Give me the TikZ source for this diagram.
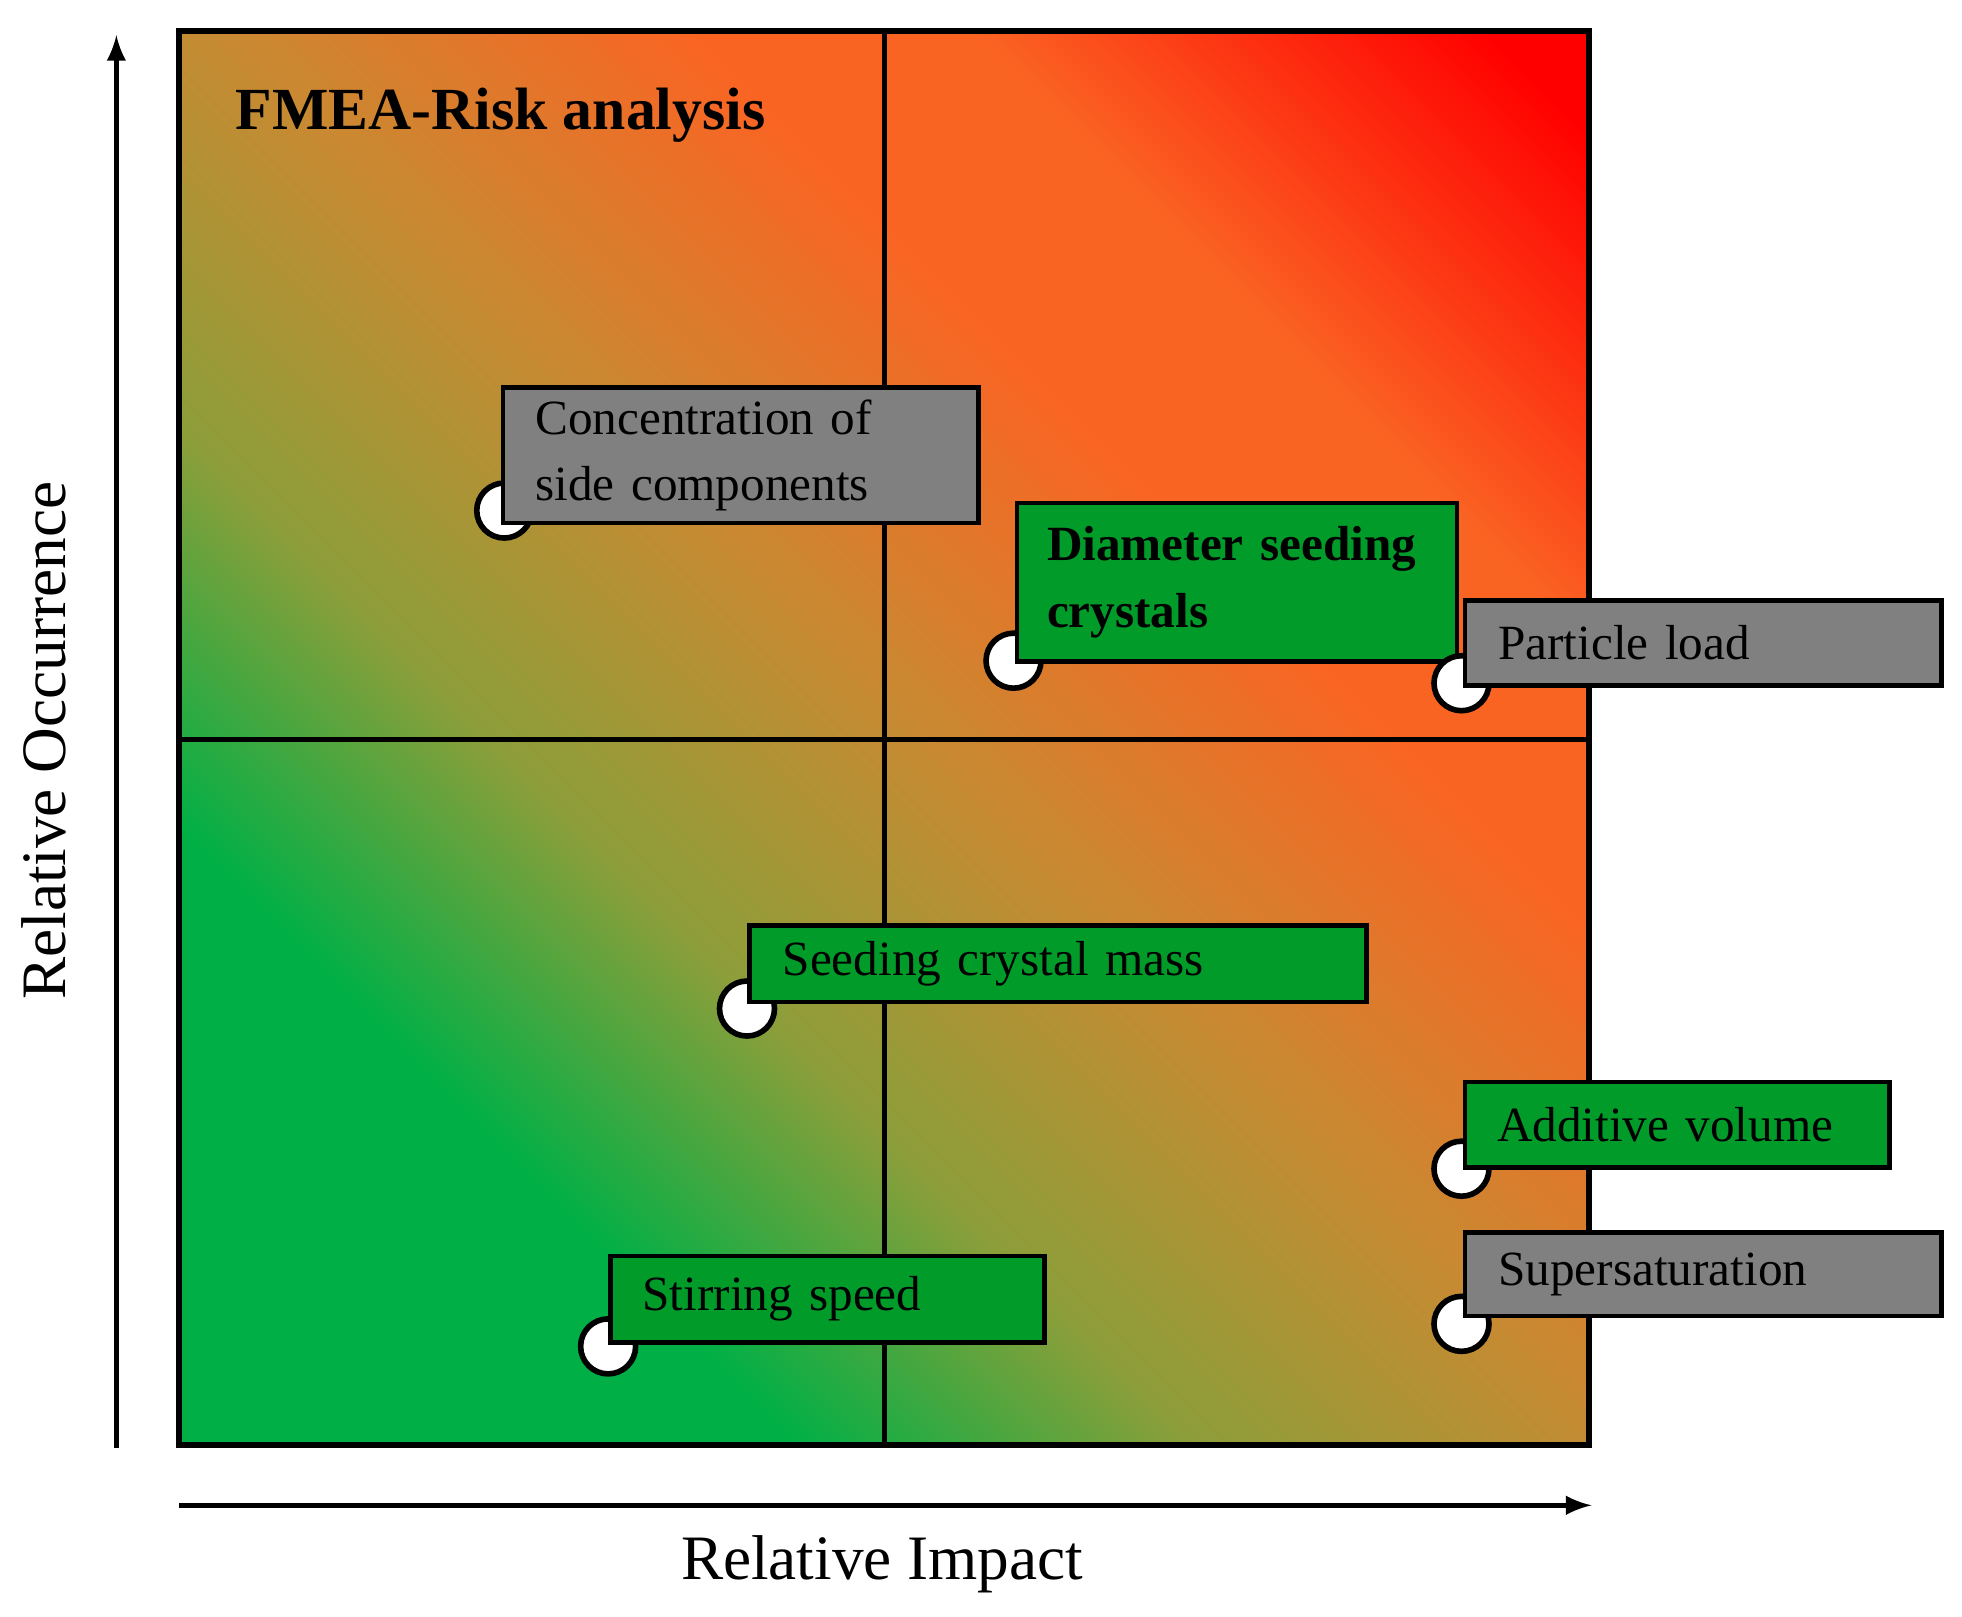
\documentclass[tikz,border=0pt]{standalone}
\usepackage{fontspec}
\setmainfont{Liberation Serif}
\definecolor{rgreen}{RGB}{0,176,70}
\definecolor{rolive}{RGB}{140,158,58}
\definecolor{rbrown}{RGB}{200,138,50}
\definecolor{rorange}{RGB}{250,100,35}
\definecolor{rred}{RGB}{255,0,0}
\definecolor{boxgreen}{RGB}{0,155,40}
\definecolor{boxgray}{RGB}{128,128,128}
\pgfdeclarehorizontalshading{risk}{100bp}{color(0bp)=(rgreen); color(30bp)=(rgreen);
  color(40bp)=(rolive); color(51bp)=(rbrown); color(63bp)=(rorange); color(70bp)=(rorange); color(83bp)=(rred); color(100bp)=(rred)}
\tikzset{
  lbl/.style={draw=black, line width=1.3pt, anchor=north west, align=left,
    inner xsep=0.3cm, font=\fontsize{14}{19}\selectfont},
  pin/.style={draw=black, fill=white, line width=1.6pt, circle, minimum size=0.55cm, inner sep=0pt},
}
\begin{document}
\begin{tikzpicture}[x=0.012513cm,y=-0.012513cm]
\useasboundingbox (0,0) rectangle (1568,1292);
% matrix background
\shade[shading=risk, shading angle=45] (143,25) rectangle (1270,1155);
\draw[line width=1.5pt] (707,25) -- (707,1155);
\draw[line width=1.5pt] (143,591) -- (1270,591);
\draw[line width=1.8pt] (143,25) rectangle (1270,1155);
\node[anchor=west, inner sep=0pt, font=\fontsize{17}{22}\selectfont\bfseries] (title) at (188,92) {FMEA-Risk analysis};
% axes
\coordinate (ybot) at (93,1157);
\coordinate (ytop) at (93,28);
\coordinate (xl) at (143,1203);
\coordinate (xr) at (1272,1203);
\draw[line width=1.5pt, -latex] (ybot) -- (ytop);
\draw[line width=1.5pt, -latex] (xl) -- (xr);
\node[rotate=90, font=\fontsize{18}{22}\selectfont] (occ) at (35,592) {Relative Occurrence};
\node[font=\fontsize{18}{22}\selectfont] (imp) at (705,1250) {Relative Impact};
% failure modes
\node[pin] (p1) at (403,408) {};
\node[lbl, fill=boxgray, minimum width=4.755cm, minimum height=1.339cm, text width=4.1cm] (conc) at (400,308) {Concentration of\\side components};
\node[pin] (p2) at (810,528) {};
\node[lbl, fill=boxgreen, minimum width=4.367cm, minimum height=1.589cm, text width=3.8cm, font=\fontsize{14}{19}\selectfont\bfseries] (diam) at (811,400) {Diameter seeding\\crystals};
\node[pin] (p3) at (1168,546) {};
\node[lbl, fill=boxgray, minimum width=4.767cm, minimum height=0.851cm, text width=4.1cm] (part) at (1169,478) {Particle load};
\node[pin] (p4) at (597,806) {};
\node[lbl, fill=boxgreen, minimum width=6.169cm, minimum height=0.763cm, text width=5.5cm] (mass) at (597,738) {Seeding crystal mass};
\node[pin] (p5) at (1168,934) {};
\node[lbl, fill=boxgreen, minimum width=4.242cm, minimum height=0.851cm, text width=3.6cm] (add) at (1169,863) {Additive volume};
\node[pin] (p6) at (1168,1058) {};
\node[lbl, fill=boxgray, minimum width=4.767cm, minimum height=0.838cm, text width=4.1cm] (sup) at (1169,983) {Supersaturation};
\node[pin] (p7) at (486,1076) {};
\node[lbl, fill=boxgreen, minimum width=4.342cm, minimum height=0.863cm, text width=3.7cm] (stir) at (486,1002) {Stirring speed};
\end{tikzpicture}
\end{document}
